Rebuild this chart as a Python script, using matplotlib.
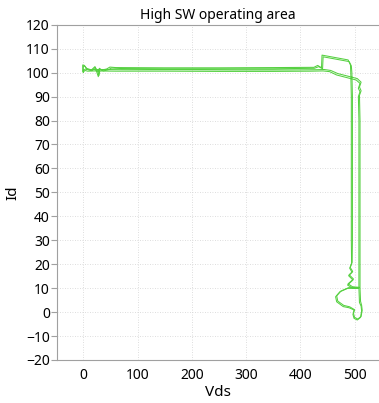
import matplotlib
matplotlib.use("Agg")
import matplotlib.pyplot as plt

# trace of the first switching cycle (Vds, Id)
vds_1 = [0, 3, 8, 20, 60, 150, 250, 350, 420, 442, 454, 467, 479, 491, 503, 510,
         507, 510, 507, 508, 508, 508, 508, 508, 509, 512, 513, 511, 505, 499, 497,
         499, 490, 479, 467, 465, 473, 487, 508, 495, 487, 497, 489, 495.5, 491,
         494.5, 494, 494, 494, 493, 492.4, 488, 440, 439, 432, 425, 350, 250, 150,
         60, 49, 43, 34, 29.5, 27.7, 24.6, 21.5, 15, 6, 2, -1, -1, 0]
id_1 = [100.2, 100.9, 100.6, 100.7, 100.6, 100.6, 100.5, 100.5, 100.6, 100.7, 100.4,
        99.0, 98.3, 97.6, 96.9, 95.5, 93.4, 92.0, 90.0, 80, 60, 40, 20, 10, 4, 2.5,
        0.5, -2.2, -3.3, -2.6, -1.0, 0.9, 1.8, 2.3, 4.3, 6.4, 8.5, 9.9, 10.0, 10.2,
        11.3, 13.4, 15.2, 16.6, 18.3, 20.4, 30, 60, 90, 100, 103.2, 105.3, 107.3,
        102.0, 103.0, 102.2, 102.1, 102.0, 102.0, 102.1, 102.3, 101.5, 101.1, 101.8,
        98.3, 100.4, 102.5, 101.1, 101.8, 103.0, 103.2, 100.4, 100.2]

# trace of the second switching cycle (Vds, Id)
vds_2 = [0, 4, 10, 30, 80, 180, 280, 380, 430, 444, 456, 469, 481, 493, 505, 512,
         509, 512, 509, 510, 510, 510, 510, 510, 511, 513, 514, 512, 506, 500, 498,
         500, 491, 480, 469, 467, 475, 489, 509, 496, 488, 498, 490, 496.5, 492,
         495.5, 496, 496, 496, 495, 494, 490, 442, 441, 434, 426, 350, 250, 150,
         70, 52, 46, 37, 31, 29, 26, 22, 16, 7, 3, 0, 0]
id_2 = [100.8, 101.5, 101.2, 101.3, 101.2, 101.2, 101.1, 101.1, 101.2, 101.3, 100.9,
        99.6, 98.9, 98.2, 97.5, 96.0, 94.0, 92.4, 90.5, 80, 60, 40, 20, 10, 4.5, 2.8,
        0.8, -1.8, -2.9, -2.2, -0.6, 1.0, 2.2, 2.8, 4.6, 6.8, 8.8, 10.2, 10.3, 10.6,
        11.8, 13.8, 15.6, 17.0, 18.6, 20.8, 30, 60, 90, 100, 102.8, 104.6, 106.6,
        101.6, 102.5, 101.8, 101.6, 101.6, 101.6, 101.7, 101.9, 101.2, 100.7, 101.4,
        98.8, 100.8, 102.2, 100.8, 101.4, 102.6, 102.8, 100.8]

x_ticks = [0, 100, 200, 300, 400, 500]
y_ticks = list(range(-20, 121, 10))

plt.rcParams["font.family"] = ["Noto Sans", "DejaVu Sans"]

fig = plt.figure(figsize=(3.79, 4.03), dpi=100)
ax = fig.add_axes([0.1496, 0.1067, 0.8504, 0.832])

line_color = "#55d040"
ax.plot(vds_1, id_1, color=line_color, lw=0.75)
ax.plot(vds_2, id_2, color=line_color, lw=0.75)

ax.set_xlim(-49, 545)
ax.set_ylim(-20, 120)
ax.set_xticks(x_ticks)
ax.set_yticks(y_ticks)
ax.grid(True, linestyle=(0, (1, 2)), color="#d2d2d2", lw=0.6)

for side in ["left", "bottom", "top"]:
    ax.spines[side].set_color("#a0a0a0")
ax.spines["right"].set_visible(False)
ax.tick_params(axis="y", length=4, color="#a0a0a0", labelsize=10, pad=1)
ax.tick_params(axis="x", length=0, labelsize=10, pad=6)

ax.set_title("High SW operating area", fontsize=10, pad=4)
ax.set_xlabel("Vds", fontsize=11, labelpad=1)
ax.set_ylabel("Id", fontsize=11, labelpad=4)

fig.savefig("out.png", dpi=100)
